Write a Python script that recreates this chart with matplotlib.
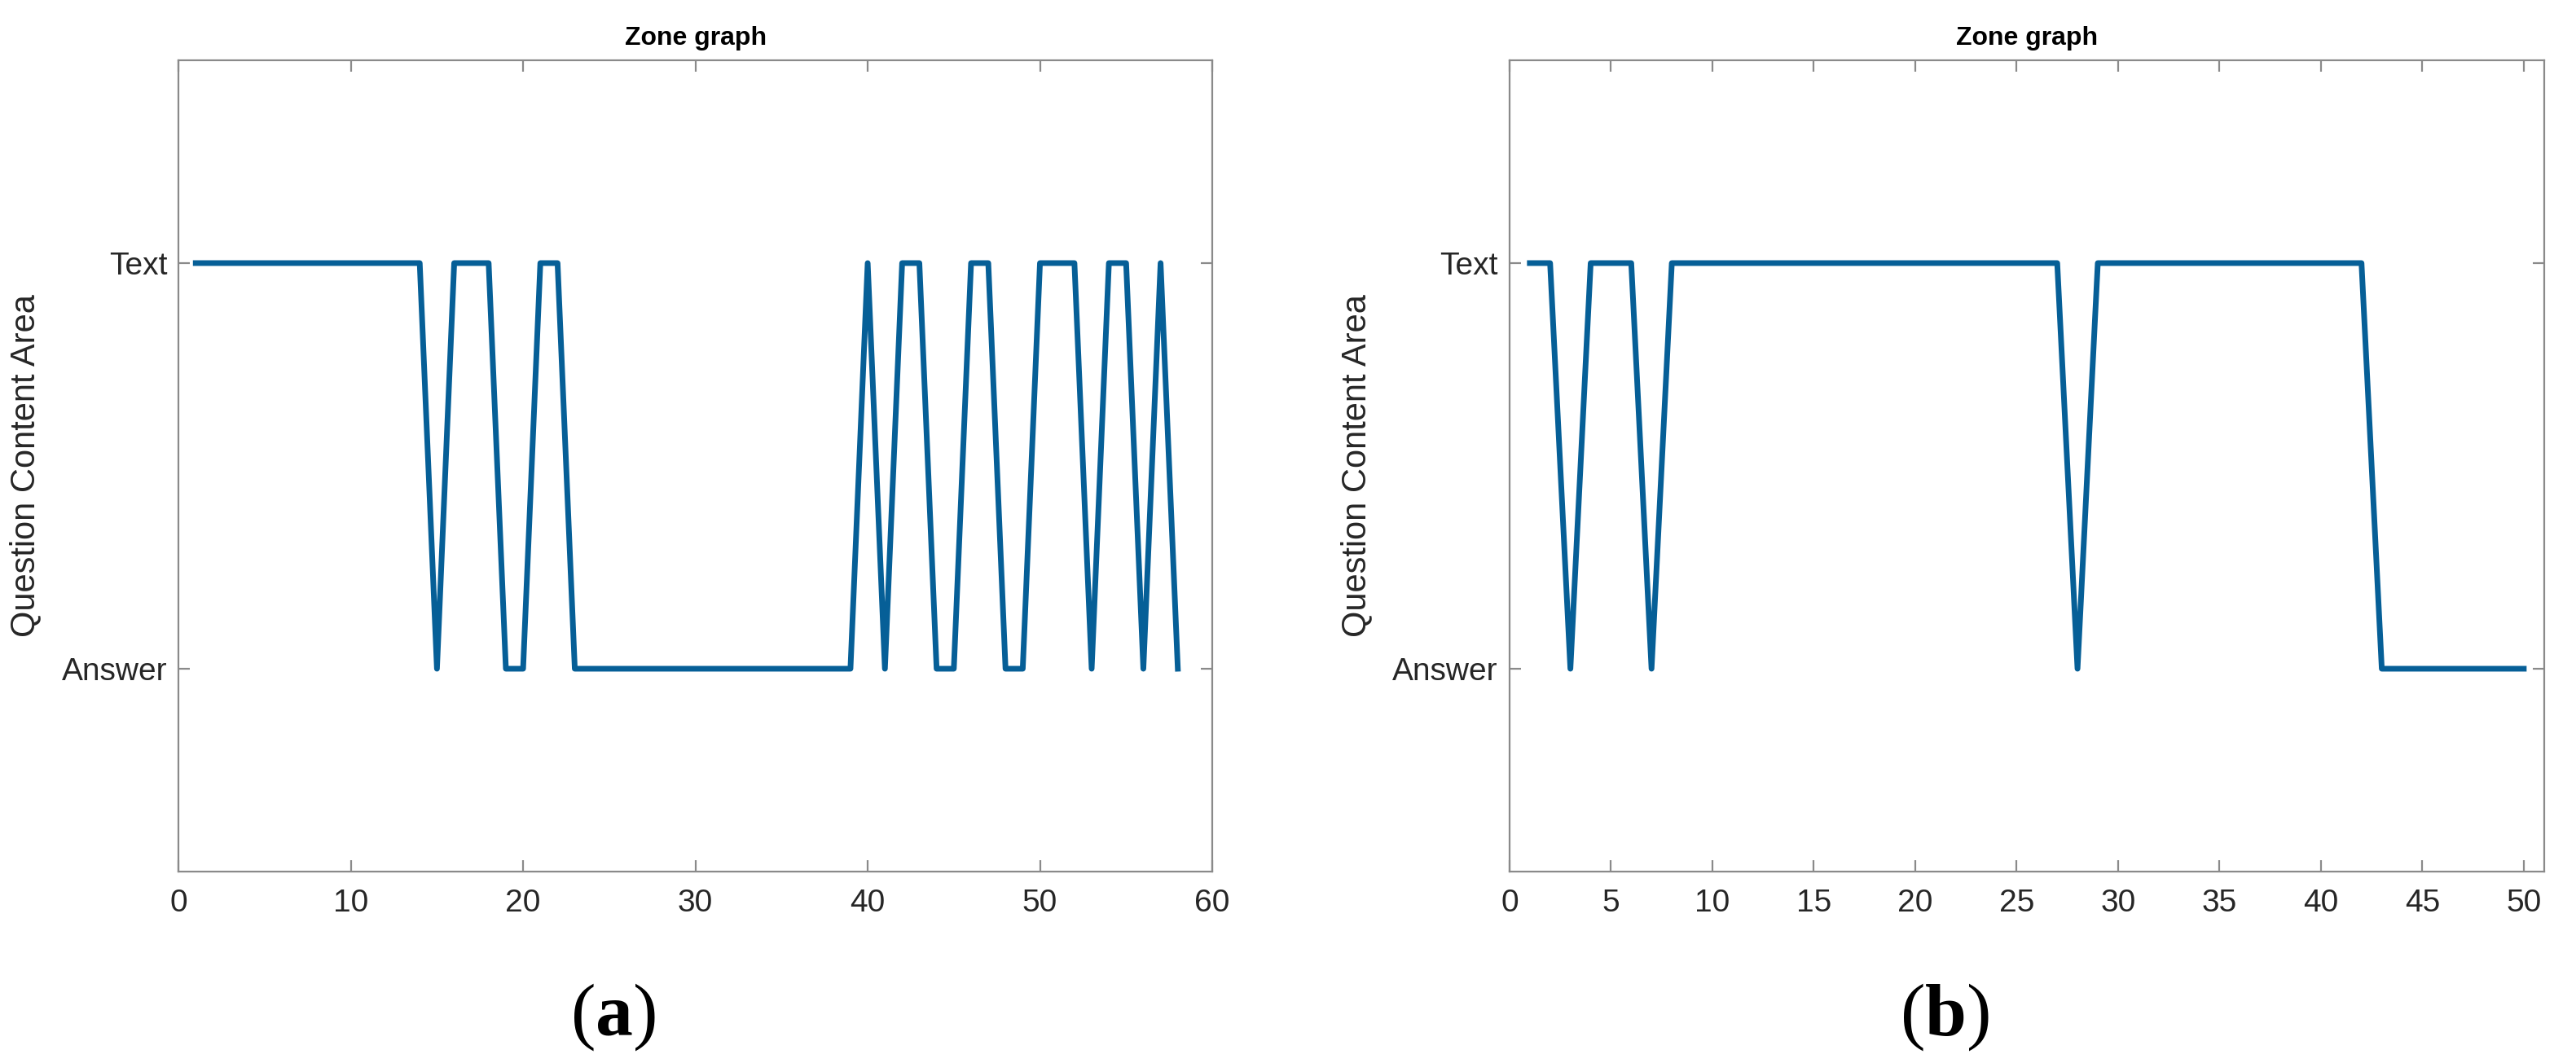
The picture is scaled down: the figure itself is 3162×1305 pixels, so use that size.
import numpy as np
import matplotlib
matplotlib.use('Agg')
from matplotlib import pyplot as plt

# Zone sequence, 1 = Answer, 2 = Text
zone_labels = ['Answer', 'Text']
zone_a = [2, 2, 2, 2, 2, 2, 2, 2, 2, 2, 2, 2, 2, 2, 1, 2, 2, 2, 1, 1,
          2, 2, 1, 1, 1, 1, 1, 1, 1, 1, 1, 1, 1, 1, 1, 1, 1, 1, 1, 2,
          1, 2, 2, 1, 1, 2, 2, 1, 1, 2, 2, 2, 1, 2, 2, 1, 2, 1]
zone_b = [2, 2, 1, 2, 2, 2, 1, 2, 2, 2, 2, 2, 2, 2, 2, 2, 2, 2, 2, 2,
          2, 2, 2, 2, 2, 2, 2, 1, 2, 2, 2, 2, 2, 2, 2, 2, 2, 2, 2, 2,
          2, 2, 1, 1, 1, 1, 1, 1, 1, 1]
xticks_a = [0, 10, 20, 30, 40, 50, 60]
xticks_b = [0, 5, 10, 15, 20, 25, 30, 35, 40, 45, 50]
panel_tags = ['a', 'b']

line_color = '#065f97'
spine_color = '#8a8a8a'

plt.rcParams['font.family'] = ['Liberation Sans', 'DejaVu Sans']
plt.rcParams['mathtext.fontset'] = 'custom'
plt.rcParams['mathtext.rm'] = 'Liberation Serif'
plt.rcParams['mathtext.bf'] = 'Liberation Serif:bold'


def zone_axes(ax, zone, xticks, xmax):
    x = np.arange(1, len(zone) + 1)
    ax.plot(x, zone, color=line_color, lw=2.5, solid_joinstyle='round')
    ax.set_xlim(0, xmax)
    ax.set_ylim(0.5, 2.5)
    ax.set_xticks(xticks)
    ax.set_yticks([1, 2])
    ax.set_yticklabels(zone_labels)
    ax.tick_params(direction='in', top=True, right=True, length=5,
                   width=0.8, color=spine_color, labelcolor='#262626',
                   labelsize=14)
    ax.tick_params(axis='x', pad=7.5)
    ax.tick_params(axis='y', pad=5)
    for s in ax.spines.values():
        s.set_color(spine_color)
        s.set_linewidth(0.8)
    ax.set_title('Zone graph', fontsize=11.5, fontweight='bold', pad=7)
    ax.set_ylabel('Question Content Area', fontsize=15, color='#262626')
    # anchor is the right edge of the rotated label
    ax.yaxis.set_label_coords(-0.132, 0.5)


fig = plt.figure(figsize=(15.81, 6.525), dpi=200)
ax1 = fig.add_axes([0.0693, 0.1801, 0.4013, 0.7632])
ax2 = fig.add_axes([0.5860, 0.1801, 0.4016, 0.7632])

zone_axes(ax1, zone_a, xticks_a, 60)
zone_axes(ax2, zone_b, xticks_b, 51)

for xc, tag in zip([752 / 3162, 2387 / 3162], panel_tags):
    fig.text(xc, 1 - 1249 / 1305, r'$\mathrm{(}\mathbf{' + tag + r'}\mathrm{)}$',
             fontsize=33, ha='center', va='center')

plt.savefig('out.png', dpi=200)
